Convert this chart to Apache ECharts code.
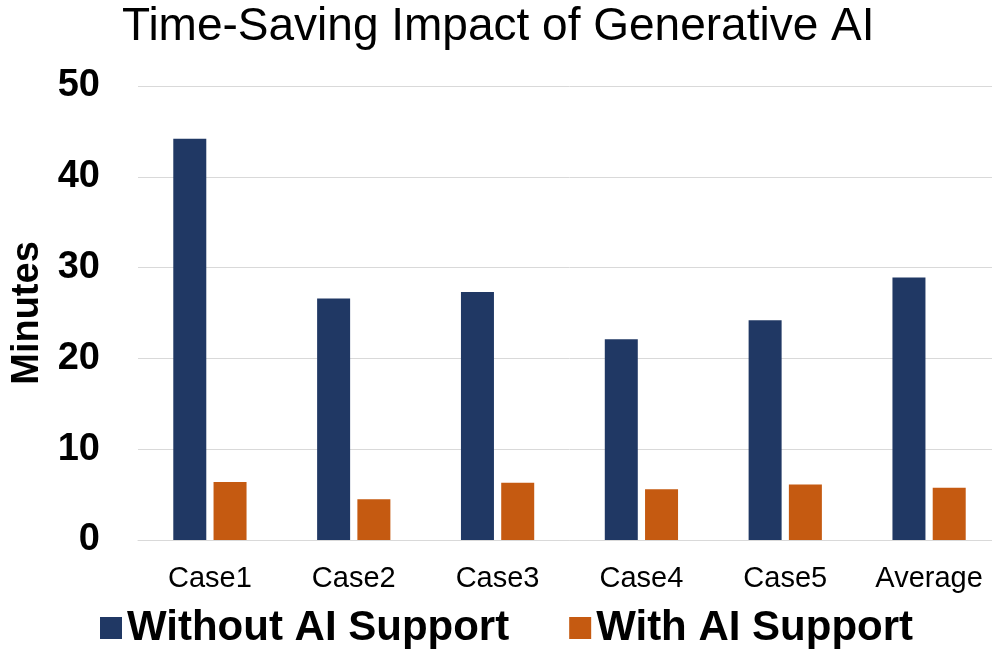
<!DOCTYPE html>
<html>
<head>
<meta charset="utf-8">
<script src="https://cdn.jsdelivr.net/npm/echarts@6/dist/echarts.min.js"></script>
<style>
  html, body { margin: 0; padding: 0; background: #fff; overflow: hidden; }
  #chart { width: 1010px; height: 652px; }
</style>
</head>
<body>
<div id="chart"></div>
<script>
const CATEGORIES = ['Case1', 'Case2', 'Case3', 'Case4', 'Case5', 'Average'];
const WITHOUT_AI = [44.2, 26.6, 27.3, 22.1, 24.2, 28.9];
const WITH_AI = [6.4, 4.5, 6.3, 5.6, 6.1, 5.75];
const SERIES_NAMES = ['Without AI Support', 'With AI Support'];

const FONT = '"Liberation Sans", Arial, sans-serif';

const chart = echarts.init(document.getElementById('chart'));

chart.setOption({
  animation: false,
  color: ['#203864', '#c55a11'],
  title: {
    text: 'Time-Saving Impact of Generative AI',
    left: 122,
    top: 4,
    padding: 0,
    textStyle: { fontFamily: FONT, fontSize: 46, fontWeight: 'normal', color: '#000' }
  },
  legend: {
    top: 607,
    left: 100,
    padding: 0,
    itemWidth: 22,
    itemHeight: 22,
    itemGap: 60,
    icon: 'rect',
    textStyle: { fontFamily: FONT, fontSize: 42, fontWeight: 'bold', color: '#000' },
    data: SERIES_NAMES
  },
  grid: {
    left: 138,
    right: 9,
    top: 86,
    bottom: 112,
    outerBoundsMode: 'none'
  },
  xAxis: {
    type: 'category',
    data: CATEGORIES,
    axisLine: { lineStyle: { color: '#d9d9d9', width: 1 } },
    axisTick: { show: false },
    axisLabel: { fontFamily: FONT, fontSize: 29, color: '#000', margin: 24 }
  },
  yAxis: {
    type: 'value',
    min: 0,
    max: 50,
    interval: 10,
    name: 'Minutes',
    nameLocation: 'middle',
    nameGap: 89,
    nameTextStyle: { fontFamily: FONT, fontSize: 38, fontWeight: 'bold', color: '#000' },
    axisLine: { show: false },
    axisTick: { show: false },
    axisLabel: { fontFamily: FONT, fontSize: 38, fontWeight: 'bold', color: '#000', margin: 38 },
    splitLine: { lineStyle: { color: '#d9d9d9', width: 1 } }
  },
  series: [
    {
      name: SERIES_NAMES[0],
      type: 'bar',
      data: WITHOUT_AI,
      barWidth: 33,
      barGap: '22%'
    },
    {
      name: SERIES_NAMES[1],
      type: 'bar',
      data: WITH_AI,
      barWidth: 33,
      barGap: '22%'
    }
  ]
});
</script>
</body>
</html>
